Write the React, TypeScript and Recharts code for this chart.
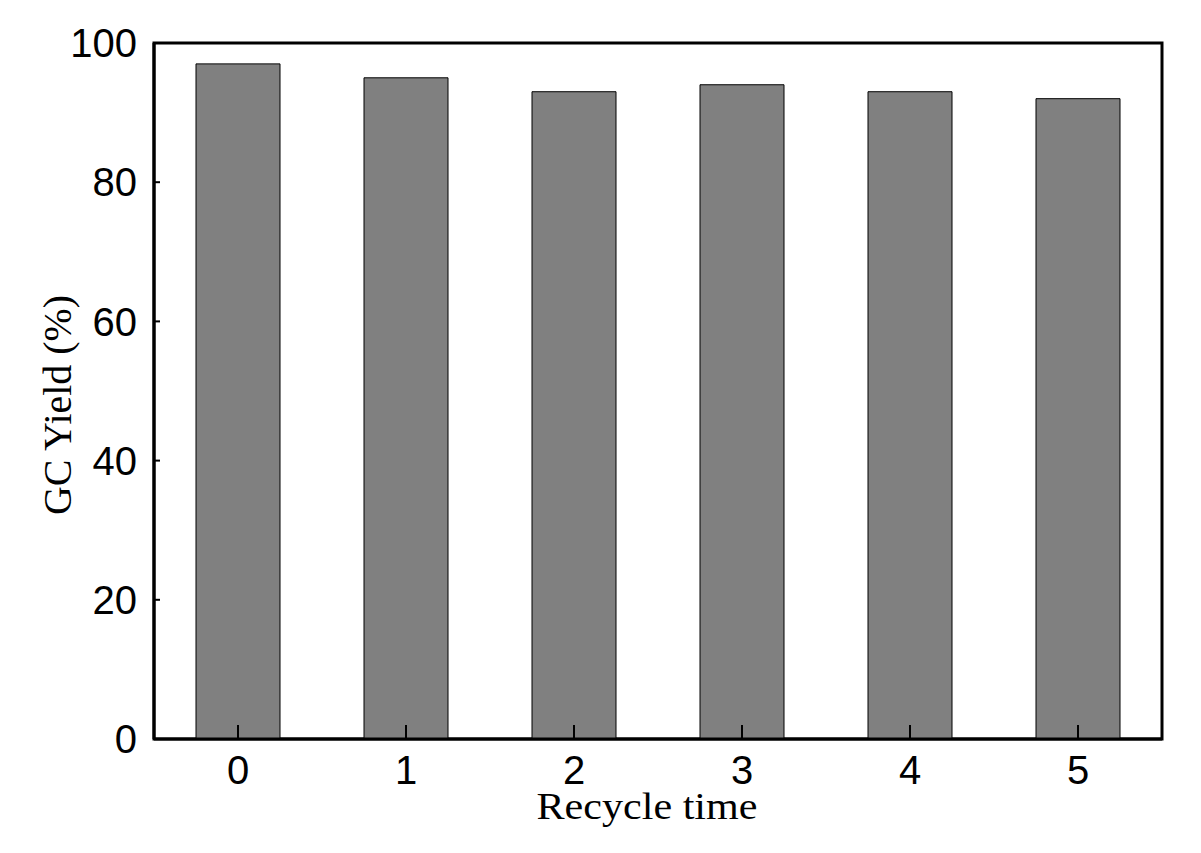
import React from 'react';
import { Bar, BarChart, XAxis, YAxis, Label, ReferenceArea } from 'recharts';

const cycles = ['0', '1', '2', '3', '4', '5'];
const yields = [97, 95, 93, 94, 93, 92];
const yTicks = [0, 20, 40, 60, 80, 100];

const data = cycles.map((c, i) => ({ cycle: c, yield: yields[i] }));

const tickFont = { fontFamily: 'Liberation Sans, Arial, sans-serif', fontSize: 40, fill: '#000' };

const App: React.FC = () => (
    <div style={{ position: 'absolute', left: 0, top: 0, background: '#fff' }}>
        <BarChart
            width={1201}
            height={853}
            data={data}
            margin={{ top: 43, right: 39, left: 0, bottom: 0 }}
            barCategoryGap="25%"
        >
            <XAxis
                dataKey="cycle"
                height={114}
                axisLine={{ stroke: '#000', strokeWidth: 3 }}
                tickLine={{ stroke: '#000', strokeWidth: 2 }}
                tickSize={-14}
                tickMargin={31}
                tick={tickFont}
            >
                <Label
                    content={() => (
                        <text
                            x={647}
                            y={819}
                            textAnchor="middle"
                            fontFamily="Liberation Serif, Times New Roman, serif"
                            fontSize={38}
                            fill="#000"
                            textLength={221}
                            lengthAdjust="spacingAndGlyphs"
                        >
                            Recycle time
                        </text>
                    )}
                />
            </XAxis>
            <YAxis
                width={154}
                domain={[0, 100]}
                ticks={yTicks}
                interval={0}
                axisLine={{ stroke: '#000', strokeWidth: 3 }}
                tickLine={{ stroke: '#000', strokeWidth: 2 }}
                tickSize={-6}
                tickMargin={23}
                tick={tickFont}
            >
                <Label
                    content={() => (
                        <text
                            x={71}
                            y={405}
                            transform="rotate(-90 71 405)"
                            textAnchor="middle"
                            fontFamily="Liberation Serif, Times New Roman, serif"
                            fontSize={39}
                            fill="#000"
                            textLength={220}
                            lengthAdjust="spacingAndGlyphs"
                        >
                            GC Yield (%)
                        </text>
                    )}
                />
            </YAxis>
            <Bar
                dataKey="yield"
                fill="#808080"
                stroke="#000"
                strokeWidth={1}
                isAnimationActive={false}
            />
            <ReferenceArea
                y1={0}
                y2={100}
                fill="none"
                fillOpacity={0}
                stroke="#000"
                strokeWidth={3}
                ifOverflow="visible"
            />
        </BarChart>
    </div>
);

export default App;
